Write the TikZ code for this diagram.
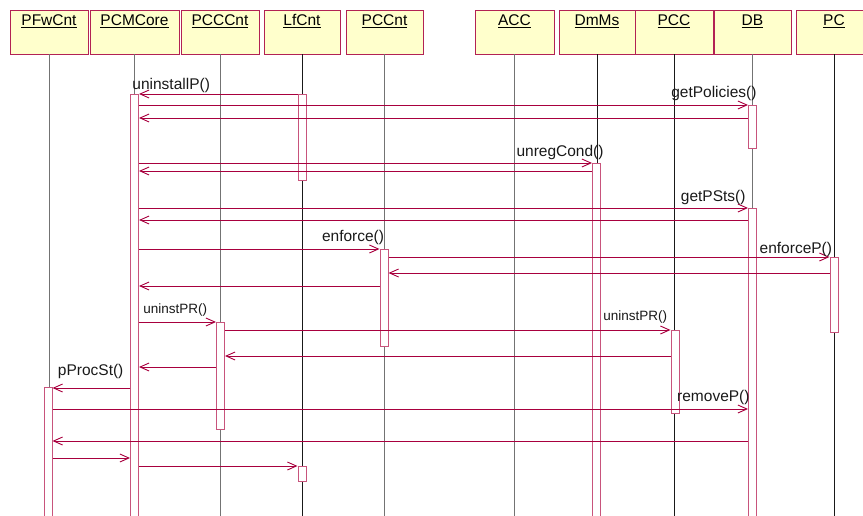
\documentclass[tikz,border=0pt]{standalone}
\usepackage{fontspec}
\setmainfont{Liberation Sans}
\usetikzlibrary{arrows.meta}

\definecolor{msgred}{RGB}{168,0,62}
\definecolor{barpink}{RGB}{200,84,124}
\definecolor{headfill}{RGB}{255,255,204}
\definecolor{headline}{RGB}{178,34,84}

\begin{document}
\begin{tikzpicture}[
        x=1pt, y=-1pt,
        head/.style={
            rectangle, draw=headline, fill=headfill, line width=0.9pt,
            minimum height=44pt, inner sep=0pt
        },
        headtxt/.style={
            anchor=north, inner sep=0pt, yshift=-5pt,
            font=\fontsize{15.5}{17}\selectfont
        },
        life/.style={draw=black!55, line width=0.8pt},
        darklife/.style={draw=black!90, line width=0.8pt},
        bar/.style={
            rectangle, draw=barpink, fill=white, line width=1pt,
            minimum width=8pt, inner sep=0pt, anchor=north
        },
        msg/.style={draw=msgred, line width=0.9pt, -{Straight Barb[length=9pt, width=8pt]}},
        lbl/.style={font=\fontsize{15.5}{17}\selectfont, inner sep=0pt, text=black!90},
        slbl/.style={font=\fontsize{13.5}{15}\selectfont, inner sep=0pt, text=black!90}
    ]

    \useasboundingbox (0,0) rectangle (863,516);

    % Objects
    \node[head, minimum width=78pt, label={[headtxt]north:\underline{PFwCnt}}] (pfw) at (49, 32) {};
    \node[head, minimum width=89pt, label={[headtxt]north:\underline{PCMCore}}] (core) at (134.5, 32) {};
    \node[head, minimum width=78pt, label={[headtxt]north:\underline{PCCCnt}}] (pccc) at (220, 32) {};
    \node[head, minimum width=76pt, label={[headtxt]north:\underline{LfCnt}}] (lf) at (302, 32) {};
    \node[head, minimum width=77pt, label={[headtxt]north:\underline{PCCnt}}] (pccnt) at (384.5, 32) {};
    \node[head, minimum width=79pt, label={[headtxt]north:\underline{ACC}}] (acc) at (514.5, 32) {};
    \node[head, minimum width=76pt, label={[headtxt]north:\underline{DmMs}}] (dmms) at (597, 32) {};
    \node[head, minimum width=78pt, label={[headtxt]north:\underline{PCC}}] (pcc) at (674, 32) {};
    \node[head, minimum width=77pt, label={[headtxt]north:\underline{DB}}] (db) at (752.5, 32) {};
    \node[head, minimum width=76pt, label={[headtxt]north:\underline{PC}}] (pc) at (834, 32) {};

    % Lifelines
    \foreach \obj in {pfw, core, pccc, pccnt, acc, db}
        \draw[life] (\obj.south) -- ++(0, 470);
    \foreach \obj in {lf, dmms, pcc, pc}
        \draw[darklife] (\obj.south) -- ++(0, 470);

    % Activations
    \node[bar, minimum height=430pt] (coreBar) at (134.5, 94) {};
    \node[bar, minimum height=86pt] (lfBarA) at (302, 94) {};
    \node[bar, minimum height=43pt] (dbBarA) at (752.5, 105) {};
    \node[bar, minimum height=360pt] (dmBar) at (596.5, 163) {};
    \node[bar, minimum height=315pt] (dbBarB) at (752.5, 208) {};
    \node[bar, minimum height=97pt] (pccntBar) at (384, 249) {};
    \node[bar, minimum height=75pt] (pcBar) at (834, 257) {};
    \node[bar, minimum height=107pt] (pcccBar) at (220.5, 322) {};
    \node[bar, minimum height=83pt] (pccBar) at (675, 330) {};
    \node[bar, minimum height=135pt] (pfwBar) at (48, 387) {};
    \node[bar, minimum height=15pt] (lfBarB) at (302, 466) {};

    % Messages
    \draw[msg] (lfBarA.west |- 0,94) -- (coreBar.east |- 0,94)
        node[lbl, pos=1, anchor=base west, xshift=-7pt, yshift=4pt] {uninstallP()};
    \draw[msg] (coreBar.east |- 0,105) -- (dbBarA.west |- 0,105)
        node[lbl, pos=1, anchor=base east, xshift=9pt, yshift=7pt] {getPolicies()};
    \draw[msg] (dbBarA.west |- 0,118) -- (coreBar.east |- 0,118);
    \draw[msg] (coreBar.east |- 0,163) -- (dmBar.west |- 0,163)
        node[lbl, pos=1, anchor=base east, xshift=12pt, yshift=6pt] {unregCond()};
    \draw[msg] (dmBar.west |- 0,171) -- (coreBar.east |- 0,171);
    \draw[msg] (coreBar.east |- 0,208) -- (dbBarB.west |- 0,208)
        node[lbl, pos=1, anchor=base east, xshift=-2pt, yshift=6pt] {getPSts()};
    \draw[msg] (dbBarB.west |- 0,220) -- (coreBar.east |- 0,220);
    \draw[msg] (coreBar.east |- 0,249) -- (pccntBar.west |- 0,249)
        node[lbl, pos=1, anchor=base east, xshift=5pt, yshift=8pt] {enforce()};
    \draw[msg] (pccntBar.east |- 0,257) -- (pcBar.west |- 0,257)
        node[lbl, pos=1, anchor=base east, xshift=3pt, yshift=3pt] {enforceP()};
    \draw[msg] (pcBar.west |- 0,273) -- (pccntBar.east |- 0,273);
    \draw[msg] (pccntBar.west |- 0,286) -- (coreBar.east |- 0,286);
    \draw[msg] (coreBar.east |- 0,322) -- (pcccBar.west |- 0,322)
        node[slbl, pos=0, anchor=base west, xshift=4pt, yshift=9pt] {uninstPR()};
    \draw[msg] (pcccBar.east |- 0,330) -- (pccBar.west |- 0,330)
        node[slbl, pos=1, anchor=base east, xshift=-3pt, yshift=10pt] {uninstPR()};
    \draw[msg] (pccBar.west |- 0,356) -- (pcccBar.east |- 0,356);
    \draw[msg] (pcccBar.west |- 0,367) -- (coreBar.east |- 0,367);
    \draw[msg] (coreBar.west |- 0,388) -- (pfwBar.east |- 0,388)
        node[lbl, pos=1, anchor=base west, xshift=5pt, yshift=13pt] {pProcSt()};
    \draw[msg] (pfwBar.east |- 0,409) -- (dbBarB.west |- 0,409)
        node[lbl, pos=1, anchor=base east, xshift=2pt, yshift=8pt] {removeP()};
    \draw[msg] (dbBarB.west |- 0,441) -- (pfwBar.east |- 0,441);
    \draw[msg] (pfwBar.east |- 0,458) -- (coreBar.west |- 0,458);
    \draw[msg] (coreBar.east |- 0,466) -- (lfBarB.west |- 0,466);

\end{tikzpicture}
\end{document}
